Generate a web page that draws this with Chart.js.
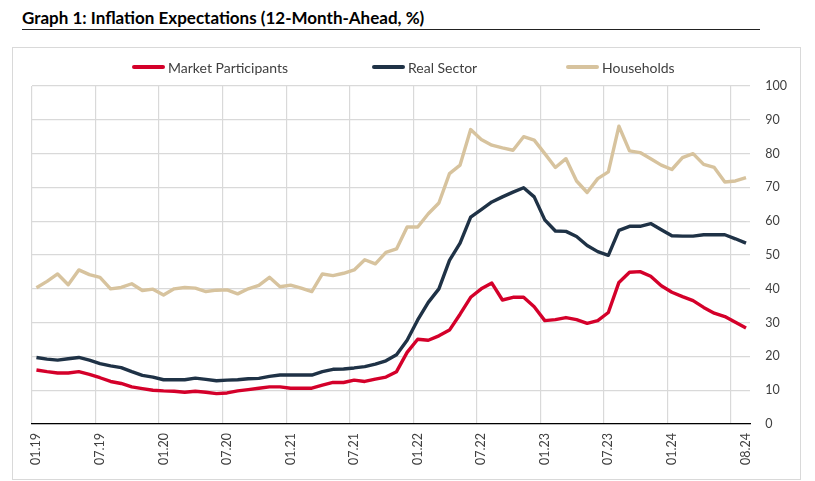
<!DOCTYPE html>
<html>
<head>
<meta charset="utf-8">
<script src="https://cdn.jsdelivr.net/npm/chart.js@4.4.1/dist/chart.umd.min.js"></script>
<style>
  body { margin: 0; background: #fff; font-family: Lato, sans-serif; }
  #page { position: relative; width: 815px; height: 481px; overflow: hidden; }
  .title { position: absolute; left: 22px; top: 7px; width: 738px; height: 22px; font: 700 17px Lato, sans-serif; line-height: 22px; color: #000; border-bottom: 1.5px solid #222; }
  .frame { position: absolute; left: 12px; top: 47px; width: 789px; height: 433px; border: 1px solid #d9d9d9; box-sizing: border-box; }
  .chart-box { position: absolute; left: 12px; top: 47px; width: 790px; height: 432px; }
  .leg { position: absolute; top: 58px; height: 18px; display: flex; align-items: center; font: 14px Lato, sans-serif; color: #404040; white-space: nowrap; }
  .leg i { display: inline-block; width: 33px; height: 4px; margin-right: 3px; border-radius: 2px; }
</style>
</head>
<body>
<div id="page">
  <div class="title">Graph 1: Inflation Expectations (12-Month-Ahead, %)</div>
  <div class="frame"></div>
  <div class="chart-box"><canvas id="chart"></canvas></div>
  <div id="legend"></div>
</div>
<script>
const months = [
  '01.19','02.19','03.19','04.19','05.19','06.19','07.19','08.19','09.19','10.19','11.19','12.19',
  '01.20','02.20','03.20','04.20','05.20','06.20','07.20','08.20','09.20','10.20','11.20','12.20',
  '01.21','02.21','03.21','04.21','05.21','06.21','07.21','08.21','09.21','10.21','11.21','12.21',
  '01.22','02.22','03.22','04.22','05.22','06.22','07.22','08.22','09.22','10.22','11.22','12.22',
  '01.23','02.23','03.23','04.23','05.23','06.23','07.23','08.23','09.23','10.23','11.23','12.23',
  '01.24','02.24','03.24','04.24','05.24','06.24','07.24','08.24'
];

// month indexes that carry a label
const labelAt = [0, 6, 12, 18, 24, 30, 36, 42, 48, 54, 60, 67];

const marketParticipants = [
  16.0, 15.5, 15.1, 15.1, 15.5, 14.7, 13.7, 12.6, 12.0, 11.0, 10.5, 10.0,
  9.8, 9.7, 9.4, 9.7, 9.4, 9.0, 9.2, 9.8, 10.2, 10.6, 11.0, 11.0,
  10.6, 10.6, 10.6, 11.5, 12.3, 12.3, 13.0, 12.6, 13.3, 13.9, 15.5, 21.2,
  25.1, 24.8, 26.1, 27.8, 32.5, 37.5, 40.0, 41.7, 36.7, 37.5, 37.5, 34.7,
  30.6, 30.9, 31.5, 30.9, 29.8, 30.6, 33.0, 41.9, 44.9, 45.1, 43.7, 40.9,
  39.0, 37.7, 36.5, 34.5, 32.8, 31.8, 30.1, 28.4
];

const realSector = [
  19.7, 19.2, 18.9, 19.3, 19.7, 18.9, 17.9, 17.2, 16.7, 15.5, 14.4, 13.9,
  13.1, 13.1, 13.1, 13.6, 13.2, 12.8, 13.0, 13.1, 13.4, 13.5, 14.1, 14.5,
  14.5, 14.5, 14.5, 15.5, 16.2, 16.3, 16.6, 17.0, 17.7, 18.7, 20.5, 24.8,
  30.8, 36.0, 40.0, 48.4, 53.5, 61.2, 63.4, 65.7, 67.2, 68.6, 69.9, 67.2,
  60.4, 57.1, 57.0, 55.5, 52.8, 51.0, 49.9, 57.3, 58.5, 58.5, 59.3, 57.5,
  55.7, 55.6, 55.6, 56.0, 56.0, 56.0, 54.8, 53.5
];

const households = [
  40.3, 42.2, 44.4, 41.2, 45.6, 44.2, 43.4, 40.0, 40.4, 41.5, 39.5, 39.9,
  38.2, 40.0, 40.4, 40.2, 39.2, 39.6, 39.7, 38.5, 40.0, 41.0, 43.4, 40.6,
  41.1, 40.2, 39.2, 44.4, 43.9, 44.6, 45.6, 48.6, 47.4, 50.8, 51.8, 58.3,
  58.3, 62.2, 65.4, 74.1, 76.6, 87.1, 84.2, 82.5, 81.7, 81.0, 85.0, 84.0,
  80.0, 75.9, 78.5, 71.9, 68.5, 72.6, 74.6, 88.1, 80.8, 80.3, 78.5, 76.6,
  75.3, 78.8, 80.0, 76.8, 75.9, 71.6, 71.9, 72.9
];

const series = [
  { name: 'Market Participants', values: marketParticipants, color: '#d4002a', legendX: 132 },
  { name: 'Real Sector', values: realSector, color: '#1f3246', legendX: 372 },
  { name: 'Households', values: households, color: '#d7c39e', legendX: 566 }
];

// vertical grid sits a little left of each labelled month, every 6 months
const gridShift = -0.42;
const gridAt = [0, 6, 12, 18, 24, 30, 36, 42, 48, 54, 60, 66].map(v => v + gridShift);

const legend = document.getElementById('legend');
for (const s of series) {
  const item = document.createElement('div');
  item.className = 'leg';
  item.style.left = s.legendX + 'px';
  const mark = document.createElement('i');
  mark.style.background = s.color;
  item.append(mark, s.name);
  legend.appendChild(item);
}

const font = { family: 'Lato', size: 12.5 };

new Chart(document.getElementById('chart'), {
  type: 'line',
  data: {
    datasets: series.map(s => ({
      label: s.name,
      data: s.values.map((v, i) => ({ x: i, y: v })),
      borderColor: s.color,
      backgroundColor: s.color,
      borderWidth: 3.4,
      pointRadius: 0,
      tension: 0,
      borderJoinStyle: 'round',
      xAxisID: 'x'
    }))
  },
  options: {
    animation: false,
    responsive: true,
    maintainAspectRatio: false,
    layout: { padding: { left: 20, top: 39, right: 0, bottom: 5 } },
    plugins: {
      legend: { display: false },
      tooltip: { enabled: false }
    },
    scales: {
      x: {
        type: 'linear',
        position: 'bottom',
        min: gridShift,
        max: 67.4,
        afterBuildTicks: scale => { scale.ticks = labelAt.map(v => ({ value: v })); },
        ticks: {
          autoSkip: false,
          minRotation: 90,
          maxRotation: 90,
          padding: 9,
          color: '#404040',
          font: font,
          callback: v => months[v]
        },
        grid: { display: false, drawTicks: false },
        border: { color: '#000', width: 1.3 }
      },
      xg: {
        type: 'linear',
        position: 'top',
        min: gridShift,
        max: 67.4,
        afterBuildTicks: scale => { scale.ticks = gridAt.map(v => ({ value: v })); },
        ticks: { display: false },
        grid: { color: '#d9d9d9', lineWidth: 1.2, drawTicks: false },
        border: { display: false }
      },
      y: {
        position: 'right',
        min: 0,
        max: 100,
        ticks: { stepSize: 10, padding: 15, color: '#404040', font: font },
        grid: { color: '#d9d9d9', lineWidth: 1.2, drawTicks: false },
        border: { display: false }
      }
    }
  }
});
</script>
</body>
</html>
